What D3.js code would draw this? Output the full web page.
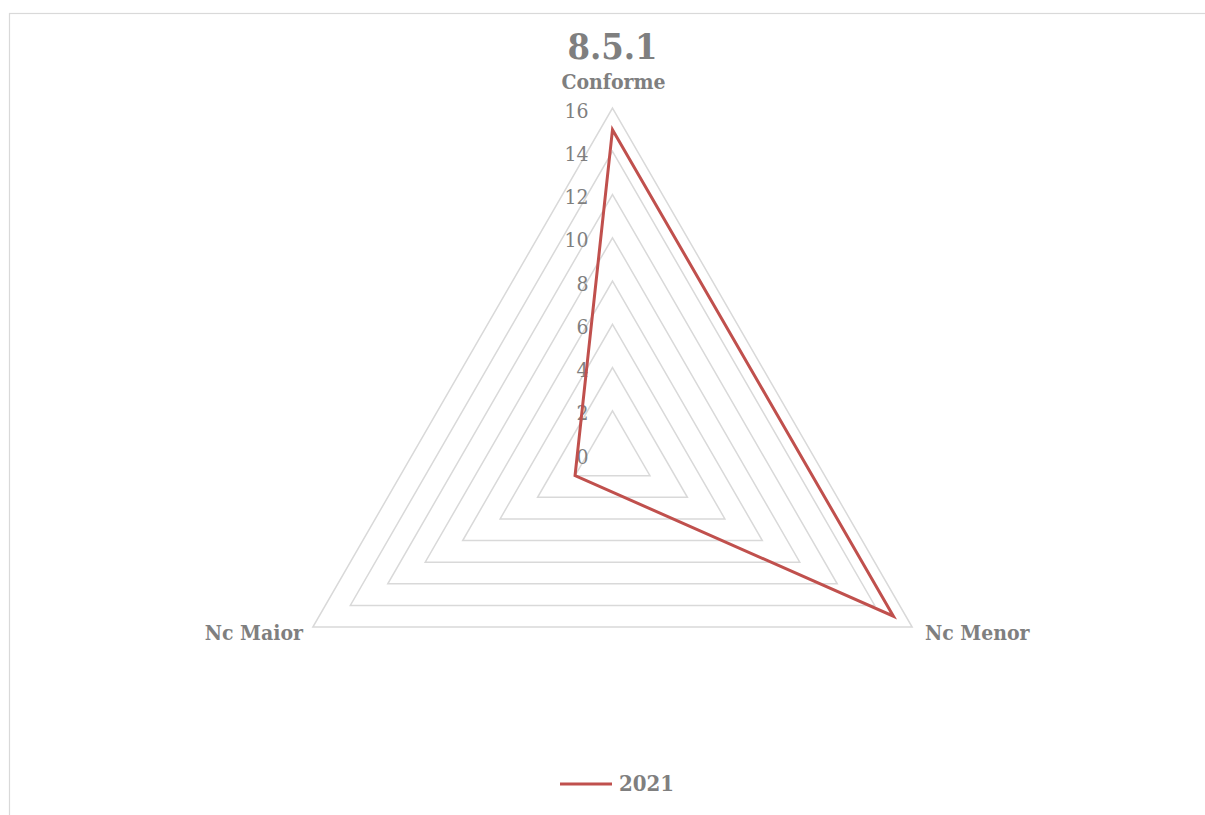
<!DOCTYPE html>
<html>
<head>
<meta charset="utf-8">
<script src="https://cdn.jsdelivr.net/npm/d3@7"></script>
<style>
html, body { margin: 0; padding: 0; background: #fff; }
svg { display: block; }
</style>
</head>
<body>
<svg id="chart" width="1205" height="815"></svg>
<script>
const title = "8.5.1";
const categories = ["Conforme", "Nc Menor", "Nc Maior"];
const seriesName = "2021";
const values = [15, 15, 2];
const tickValues = [0, 2, 4, 6, 8, 10, 12, 14, 16];

const svg = d3.select("#chart");
const W = 1205, H = 815;
const cx = 612.5, cy = 454;
const rMax = 346;
const font = "'DejaVu Serif Condensed', 'DejaVu Serif', serif";
const gray = "#7f7f7f";
const red = "#c0504d";

// chart border
svg.append("rect").attr("x", 9.5).attr("y", 13.5).attr("width", W).attr("height", H)
  .attr("fill", "#fff").attr("stroke", "#d9d9d9").attr("stroke-width", 1.2);

const r = d3.scaleLinear().domain([0, 16]).range([0, rMax]);
const angle = d3.scalePoint().domain(categories.concat(["_end"])).range([0, 2 * Math.PI]);
const pt = (cat, v) => {
  const a = angle(cat);
  return [cx + r(v) * Math.sin(a), cy - r(v) * Math.cos(a)];
};

// grid rings
const g = svg.append("g");
tickValues.filter(t => t > 0).forEach(t => {
  g.append("path")
    .attr("d", d3.line()(categories.map(c => pt(c, t))) + "Z")
    .attr("fill", "none").attr("stroke", "#d9d9d9").attr("stroke-width", 1.5);
});

// tick labels
tickValues.forEach(t => {
  g.append("text")
    .attr("x", cx - 24).attr("y", cy - r(t) + 4)
    .attr("text-anchor", "end").attr("dominant-baseline", "middle")
    .attr("font-family", font).attr("font-size", 21).attr("fill", gray)
    .text(t);
});

// series
svg.append("path")
  .attr("d", d3.line()(categories.map((c, i) => pt(c, values[i]))) + "Z")
  .attr("fill", "none").attr("stroke", red).attr("stroke-width", 3)
  .attr("stroke-linejoin", "miter");

// category labels
const labelPos = {
  "Conforme": {x: cx + 1, y: 83, anchor: "middle"},
  "Nc Menor": {x: 925, y: 634, anchor: "start"},
  "Nc Maior": {x: 303, y: 634, anchor: "end"}
};
categories.forEach(c => {
  const p = labelPos[c];
  svg.append("text").attr("x", p.x).attr("y", p.y)
    .attr("text-anchor", p.anchor).attr("dominant-baseline", "middle")
    .attr("font-family", font).attr("font-weight", "bold").attr("font-size", 21)
    .attr("fill", gray).text(c);
});

// title
svg.append("text").attr("x", cx).attr("y", 50)
  .attr("text-anchor", "middle").attr("dominant-baseline", "middle")
  .attr("font-family", font).attr("font-weight", "bold").attr("font-size", 36)
  .attr("fill", gray).text(title);

// legend
svg.append("line").attr("x1", 560).attr("x2", 612).attr("y1", 784).attr("y2", 784)
  .attr("stroke", red).attr("stroke-width", 3);
svg.append("text").attr("x", 619).attr("y", 785)
  .attr("dominant-baseline", "middle")
  .attr("font-family", font).attr("font-weight", "bold").attr("font-size", 22)
  .attr("fill", gray).text(seriesName);
</script>
</body>
</html>
